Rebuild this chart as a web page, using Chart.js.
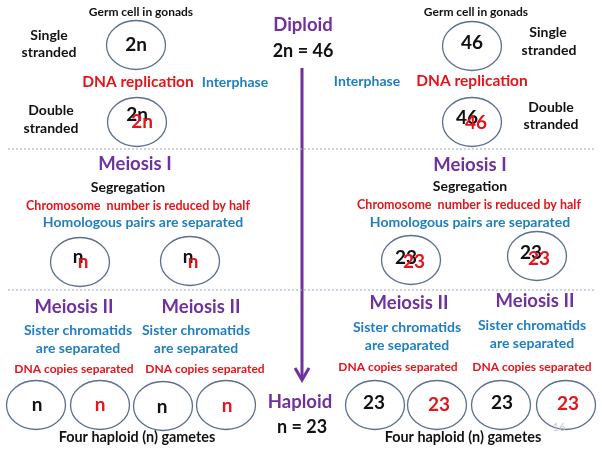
<!DOCTYPE html>
<html>
<head>
<meta charset="utf-8">
<script src="https://cdn.jsdelivr.net/npm/chart.js@4.4.1/dist/chart.umd.min.js"></script>
<style>
  html, body { margin: 0; padding: 0; background: #fff; }
  canvas { display: block; }
</style>
</head>
<body>
<canvas id="grafico" width="602" height="455"></canvas>
<script>
// células (centro de cada elipse)
let circleX = [136, 137, 472, 472, 80, 190, 411, 537, 36, 100, 163, 226, 375, 437, 501, 566]
let circleY = [45, 122, 46, 122, 262, 261, 260, 256, 405, 405, 406, 405, 405, 405, 405, 405]

// linhas tracejadas e seta central
let sepY = [149, 290]
let arrowX = [302, 302]
let arrowY = [68, 377]
let headX = [295, 302, 309]
let headY = [368, 380, 368]

// textos, um por linha de cada array
let labelText = [
  'Germ cell in gonads', 'Germ cell in gonads',
  'Single', 'stranded', 'Single', 'stranded',
  'Double', 'stranded', 'Double', 'stranded',
  'Diploid', '2n = 46',
  'DNA replication', 'Interphase', 'Interphase', 'DNA replication',
  '2n', '2n', '2n', '46', '46', '46',
  'Meiosis I', 'Meiosis I', 'Segregation', 'Segregation',
  'Chromosome  number is reduced by half', 'Chromosome  number is reduced by half',
  'Homologous pairs are separated', 'Homologous pairs are separated',
  'n', 'n', 'n', 'n', '23', '23', '23', '23',
  'Meiosis II', 'Meiosis II', 'Meiosis II', 'Meiosis II',
  'Sister chromatids', 'Sister chromatids', 'Sister chromatids', 'Sister chromatids',
  'are separated', 'are separated', 'are separated', 'are separated',
  'DNA copies separated', 'DNA copies separated', 'DNA copies separated', 'DNA copies separated',
  'n', 'n', 'n', 'n', '23', '23', '23', '23',
  'Four haploid (n) gametes', 'Four haploid (n) gametes',
  'Haploid', 'n = 23', '16'
]
let labelX = [
  141, 476,
  49, 49, 548, 549,
  51, 51, 551, 551,
  303, 303,
  138, 235, 367, 472,
  136, 137, 142, 472, 467, 476,
  135, 470, 128, 470,
  138, 469,
  143, 470,
  78, 83, 188, 193, 406, 414, 531, 539,
  74, 201, 409, 535,
  78, 196, 407, 532,
  78, 196, 407, 532,
  74, 205, 398, 532,
  37, 100, 162, 227, 374, 439, 502, 568,
  137, 463,
  300, 302, 559
]
let labelY = [
  12, 12,
  35, 52, 32, 50,
  110, 128, 107, 124,
  25, 51,
  82, 82, 81, 81,
  45, 115, 122, 43, 118, 123,
  164, 165, 187, 186,
  206, 205,
  222, 222,
  257, 262, 257, 262, 258, 262, 253, 259,
  307, 307, 303, 301,
  330, 330, 327, 325,
  348, 348, 345, 343,
  369, 369, 367, 367,
  405, 405, 407, 406, 403, 405, 403, 404,
  437, 437,
  402, 427, 427
]
let labelKind = [
  'note', 'note',
  'strand', 'strand', 'strand', 'strand',
  'strand', 'strand', 'strand', 'strand',
  'stage', 'ploidy',
  'replication', 'phase', 'phase', 'replication',
  'inK', 'inK', 'inR', 'inK', 'inK', 'inR',
  'stage', 'stage', 'strand', 'strand',
  'reduce', 'reduce',
  'separate', 'separate',
  'inK', 'inR', 'inK', 'inR', 'inK', 'inR', 'inK', 'inR',
  'stage', 'stage', 'stage', 'stage',
  'separate', 'separate', 'separate', 'separate',
  'separate', 'separate', 'separate', 'separate',
  'copies', 'copies', 'copies', 'copies',
  'inK', 'inR', 'inK', 'inR', 'inK', 'inR', 'inK', 'inR',
  'gametes', 'gametes',
  'stage', 'ploidy', 'page'
]

const roxo = '#7030A0'
const vermelho = '#E5141B'
const azul = '#1F7EC1'

const estilos = {
  note: { size: 12, color: '#111' },
  strand: { size: 14, color: '#111' },
  stage: { size: 18.5, color: roxo },
  ploidy: { size: 18, color: '#111' },
  replication: { size: 15.5, color: vermelho },
  phase: { size: 14, color: azul },
  reduce: { size: 12.5, color: vermelho },
  copies: { size: 12, color: vermelho },
  separate: { size: 14, color: azul },
  gametes: { size: 14.4, color: '#111' },
  inK: { size: 19, color: '#111' },
  inR: { size: 19, color: vermelho },
  page: { size: 11, color: '#c8c8c8', weight: 'normal' }
}

const raioX = 29.5
const raioY = 24.5

function pontos(xs, ys) {
  return xs.map((x, i) => ({ x: x, y: ys[i] }))
}

const desenho = {
  id: 'desenho',
  afterDatasetsDraw(chart) {
    const ctx = chart.ctx
    const sx = chart.scales.x
    const sy = chart.scales.y
    const rx = Math.abs(sx.getPixelForValue(raioX) - sx.getPixelForValue(0))
    const ry = Math.abs(sy.getPixelForValue(raioY) - sy.getPixelForValue(0))

    ctx.save()
    ctx.strokeStyle = '#5B6F8E'
    ctx.lineWidth = 1.3
    chart.getDatasetMeta(0).data.forEach(p => {
      ctx.beginPath()
      ctx.ellipse(p.x, p.y, rx, ry, 0, 0, 2 * Math.PI)
      ctx.stroke()
    })

    ctx.textAlign = 'center'
    ctx.textBaseline = 'middle'
    chart.getDatasetMeta(1).data.forEach((p, i) => {
      let e = estilos[labelKind[i]]
      ctx.font = (e.weight || 'bold') + ' ' + e.size + 'px Lato'
      ctx.fillStyle = e.color
      ctx.fillText(labelText[i], p.x, p.y)
    })
    ctx.restore()
  }
}

const ctx = document.getElementById('grafico').getContext('2d')

new Chart(ctx, {
  type: 'scatter',
  data: {
    datasets: [
      { data: pontos(circleX, circleY), pointRadius: 0 },
      { data: pontos(labelX, labelY), pointRadius: 0 },
      {
        data: pontos([8, 594], [sepY[0], sepY[0]]), showLine: true, pointRadius: 0,
        borderColor: '#A7B8CE', borderWidth: 1.2, borderDash: [2, 2]
      },
      {
        data: pontos([8, 594], [sepY[1], sepY[1]]), showLine: true, pointRadius: 0,
        borderColor: '#A7B8CE', borderWidth: 1.2, borderDash: [2, 2]
      },
      {
        data: pontos(arrowX, arrowY), showLine: true, pointRadius: 0,
        borderColor: roxo, borderWidth: 3
      },
      {
        data: pontos(headX, headY), showLine: true, pointRadius: 0,
        borderColor: roxo, borderWidth: 3, borderJoinStyle: 'miter'
      }
    ]
  },
  options: {
    responsive: false,
    animation: false,
    layout: { padding: 0 },
    plugins: { legend: { display: false }, tooltip: { enabled: false } },
    scales: {
      x: { type: 'linear', min: 0, max: 602, display: false },
      y: { type: 'linear', min: 0, max: 455, reverse: true, display: false }
    }
  },
  plugins: [desenho]
})
</script>
</body>
</html>
